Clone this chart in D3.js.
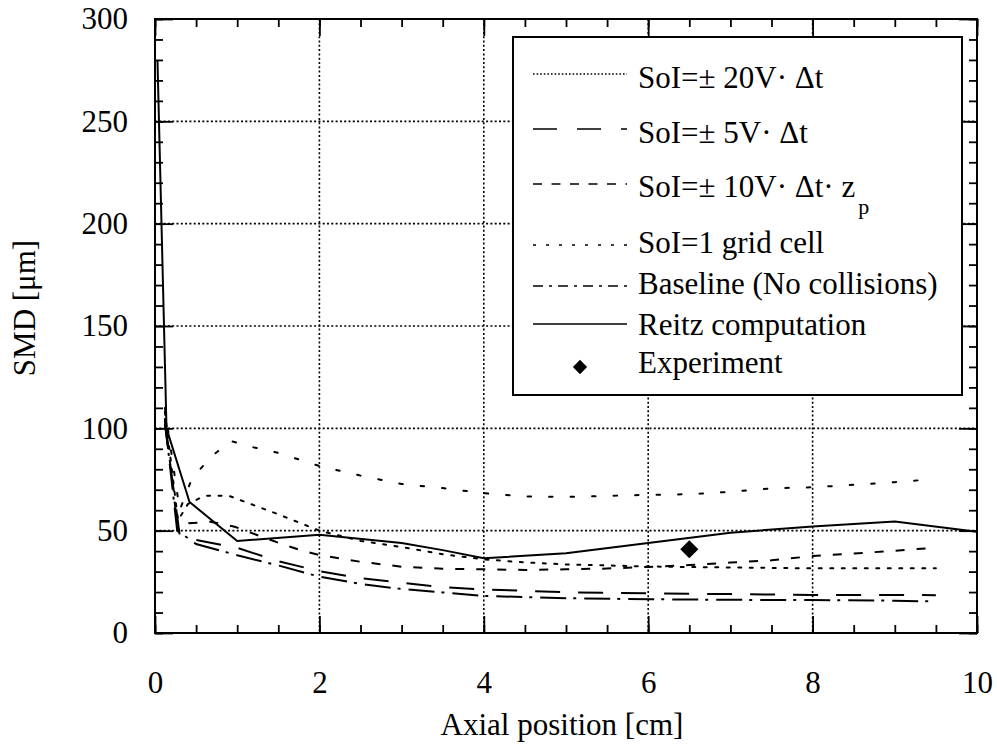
<!DOCTYPE html>
<html>
<head>
<meta charset="utf-8">
<script src="https://cdn.jsdelivr.net/npm/d3@7/dist/d3.min.js"></script>
<style>
  html, body { margin: 0; padding: 0; background: #fff; }
  svg { display: block; }
  text { font-family: "Liberation Serif", "Tinos", "Times New Roman", "Times", "Nimbus Roman", "Nimbus Roman No9 L", "DejaVu Serif", "Noto Serif", serif; fill: #000; }
</style>
</head>
<body>
<svg id="chart" width="997" height="747"></svg>
<script>
// ---------------- data ----------------
const xTickLabels = [0, 2, 4, 6, 8, 10];
const yTickLabels = [0, 50, 100, 150, 200, 250, 300];

const seriesNames = [
  "SoI=± 20V· Δt",
  "SoI=± 5V· Δt",
  "SoI=± 10V· Δt· z",
  "SoI=1 grid cell",
  "Baseline (No collisions)",
  "Reitz computation",
  "Experiment"
];

const sol20X = [0.12, 0.3, 0.45, 0.68, 0.92, 1.2, 1.5, 2, 2.5, 3, 3.5, 4, 4.5, 5, 5.5, 6, 6.5, 7, 7.5, 8, 8.5, 9, 9.35];
const sol20Y = [110, 60, 75.5, 86, 93.8, 90.7, 88, 81.6, 76.9, 72.8, 70.8, 68.3, 66.7, 66.5, 67, 67.5, 67.8, 69, 70.7, 71.2, 72.4, 73.7, 74.8];

const sol5X = [0.12, 0.3, 0.5, 1, 1.5, 2, 2.5, 3, 3.5, 4, 5, 6, 7, 8, 9, 9.5];
const sol5Y = [102, 48, 45.5, 41.6, 35.1, 30.2, 26.8, 24.6, 22.4, 21.3, 19.9, 19.4, 19, 18.6, 18.6, 18.5];

const sol10X = [0.12, 0.28, 0.41, 0.67, 0.97, 1.24, 1.52, 1.76, 2, 2.5, 3, 3.5, 4, 4.5, 5, 5.5, 6, 6.5, 7, 7.5, 8, 8.5, 9, 9.4];
const sol10Y = [105, 50, 53.6, 54.4, 51.9, 47.9, 43.8, 40.6, 38.1, 34.8, 32.4, 31.4, 31.1, 30.8, 31.1, 31.5, 32.3, 33.2, 34.4, 35.5, 37.6, 38.8, 40.2, 41.4];

const gridCellX = [0.12, 0.28, 0.4, 0.6, 0.9, 1.2, 1.5, 2, 2.5, 3, 3.5, 4, 4.5, 5, 6, 7, 8, 9, 9.5];
const gridCellY = [108, 55, 63, 67, 67, 62.5, 58, 50, 45, 42, 38.5, 36, 34.5, 33.5, 32.5, 32, 31.6, 31.6, 31.6];

const baselineX = [0.12, 0.27, 0.5, 1, 1.5, 2, 2.5, 3, 3.5, 4, 5, 6, 7, 8, 9, 9.5];
const baselineY = [104, 50, 43.5, 38, 33, 27.5, 24, 21.5, 19.8, 18.1, 17, 16.5, 16.2, 16.1, 15.8, 15.4];

const reitzX = [0.03, 0.14, 0.42, 1, 2, 3, 3.5, 4, 5, 6, 7, 8, 9, 10];
const reitzY = [280, 100, 64, 45, 48, 44, 40.5, 36.5, 39, 44, 49, 52, 54.5, 49.5];

const experimentX = [6.5];
const experimentY = [40.9];

// ---------------- layout ----------------
const svg = d3.select("#chart");
const L = 155, R = 977, T = 19, B = 633;
const x = d3.scaleLinear().domain([0, 10]).range([L, R]);
const y = d3.scaleLinear().domain([0, 300]).range([B, T]);
const FS = 31;
const FONT = '"Liberation Serif", "Tinos", "Times New Roman", "Times", "Nimbus Roman", "DejaVu Serif", "Noto Serif", serif';

const xMinor = d3.range(0, 10.001, 0.5);
const yMinor = d3.range(0, 300.001, 10);
const xMajor = d3.range(0, 10.001, 2);
const yMajor = d3.range(0, 300.001, 50);

// grid (dotted)
const grid = svg.append("g").attr("stroke", "#000").attr("stroke-width", 1.6).attr("stroke-dasharray", "2,2.3");
grid.selectAll("line.gx").data([2, 4, 6, 8]).join("line")
  .attr("x1", d => x(d)).attr("x2", d => x(d)).attr("y1", T).attr("y2", B);
grid.selectAll("line.gy").data([50, 100, 150, 200, 250]).join("line")
  .attr("y1", d => y(d)).attr("y2", d => y(d)).attr("x1", L).attr("x2", R);

function styleAxis(g) {
  g.select(".domain").remove();
  g.attr("font-family", FONT);
  g.selectAll(".tick line").attr("stroke", "#000").attr("stroke-width", 1.8);
}

// minor ticks (inward) on all four sides
svg.append("g").attr("transform", `translate(0,${B})`)
  .call(d3.axisBottom(x).tickValues(xMinor).tickSizeInner(-8).tickSizeOuter(0).tickFormat(""))
  .call(styleAxis);
svg.append("g").attr("transform", `translate(0,${T})`)
  .call(d3.axisTop(x).tickValues(xMinor).tickSizeInner(-8).tickSizeOuter(0).tickFormat(""))
  .call(styleAxis);
svg.append("g").attr("transform", `translate(${L},0)`)
  .call(d3.axisLeft(y).tickValues(yMinor).tickSizeInner(-8).tickSizeOuter(0).tickFormat(""))
  .call(styleAxis);
svg.append("g").attr("transform", `translate(${R},0)`)
  .call(d3.axisRight(y).tickValues(yMinor).tickSizeInner(-8).tickSizeOuter(0).tickFormat(""))
  .call(styleAxis);

// major ticks with labels
const xAxisG = svg.append("g").attr("transform", `translate(0,${B})`)
  .call(d3.axisBottom(x).tickValues(xTickLabels).tickSizeInner(-17).tickSizeOuter(0).tickPadding(38).tickFormat(d3.format("d")))
  .call(styleAxis);
xAxisG.selectAll("text").attr("font-size", FS).attr("fill", "#000");
svg.append("g").attr("transform", `translate(0,${T})`)
  .call(d3.axisTop(x).tickValues(xMajor).tickSizeInner(-17).tickSizeOuter(0).tickFormat(""))
  .call(styleAxis);
const yAxisG = svg.append("g").attr("transform", `translate(${L},0)`)
  .call(d3.axisLeft(y).tickValues(yTickLabels).tickSizeInner(-18).tickSizeOuter(0).tickPadding(27).tickFormat(d3.format("d")))
  .call(styleAxis);
yAxisG.selectAll("text").attr("font-size", FS).attr("fill", "#000");
svg.append("g").attr("transform", `translate(${R},0)`)
  .call(d3.axisRight(y).tickValues(yMajor).tickSizeInner(-18).tickSizeOuter(0).tickFormat(""))
  .call(styleAxis);

// frame
svg.append("rect").attr("x", L).attr("y", T).attr("width", R - L).attr("height", B - T)
  .attr("fill", "none").attr("stroke", "#000").attr("stroke-width", 2);

// axis titles
svg.append("text").attr("x", 562).attr("y", 735).attr("text-anchor", "middle")
  .attr("font-size", FS).text("Axial position [cm]");
svg.append("text").attr("transform", "translate(35,308) rotate(-90)").attr("text-anchor", "middle")
  .attr("font-size", FS).text("SMD [μm]");

// curves
const plot = svg.append("g");
const line = d3.line().x(d => x(d[0])).y(d => y(d[1]));
const zip = (a, b) => a.map((v, i) => [v, b[i]]);

const curves = [
  { xs: sol20X, ys: sol20Y, dash: "3.5,18", cap: "round" },
  { xs: sol5X, ys: sol5Y, dash: "25,18", cap: "butt" },
  { xs: sol10X, ys: sol10Y, dash: "9,12", cap: "butt" },
  { xs: gridCellX, ys: gridCellY, dash: "3,8.5", cap: "round" },
  { xs: baselineX, ys: baselineY, dash: "26,7,3,8", cap: "butt" },
  { xs: reitzX, ys: reitzY, dash: null, cap: "butt" }
];
curves.forEach(c => {
  plot.append("path").datum(zip(c.xs, c.ys))
    .attr("d", line).attr("fill", "none").attr("stroke", "#000")
    .attr("stroke-width", 2).attr("stroke-linecap", c.cap)
    .attr("stroke-dasharray", c.dash);
});

const diamond = d3.symbol().type(d3.symbolDiamond2).size(210);
plot.selectAll("path.exp").data(zip(experimentX, experimentY)).join("path")
  .attr("class", "exp")
  .attr("transform", d => `translate(${x(d[0])},${y(d[1])})`)
  .attr("d", diamond).attr("fill", "#000");

// legend
const lg = svg.append("g");
lg.append("rect").attr("x", 513).attr("y", 37).attr("width", 449).attr("height", 358)
  .attr("fill", "#fff").attr("stroke", "#000").attr("stroke-width", 2);
const legendBaselines = [88, 143, 197, 253, 294, 335, 373];
const legendLineY = [74, 129, 184, 245, 286, 324, 367];
const legendDash = ["1.6,2", "24,20", "9,9.5", "3,10", "10,6,3,6", null];
const textX = 638;
seriesNames.forEach((name, i) => {
  if (i < 6) {
    lg.append("line").attr("x1", 533).attr("x2", 627)
      .attr("y1", legendLineY[i]).attr("y2", legendLineY[i])
      .attr("stroke", "#000").attr("stroke-width", 1.6)
      .attr("stroke-dasharray", legendDash[i]);
  } else {
    lg.append("path").attr("transform", `translate(580,${legendLineY[i]})`)
      .attr("d", d3.symbol().type(d3.symbolDiamond2).size(130)).attr("fill", "#000");
  }
  const t = lg.append("text").attr("x", textX).attr("y", legendBaselines[i]).attr("font-size", FS);
  t.append("tspan").text(name);
  if (i === 2) {
    t.append("tspan").attr("dx", 3).attr("dy", 17).attr("font-size", 22).text("p");
  }
});
</script>
</body>
</html>
